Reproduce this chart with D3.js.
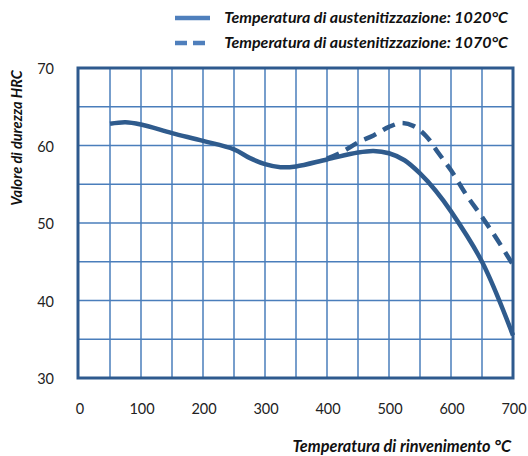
<!DOCTYPE html>
<html>
<head>
<meta charset="utf-8">
<script src="https://cdn.jsdelivr.net/npm/d3@7"></script>
<style>
  body { margin: 0; background: #fff; }
  svg { display: block; font-family: Lato, 'Open Sans', sans-serif; }
</style>
</head>
<body>
<script>
const xTicks = [0, 100, 200, 300, 400, 500, 600, 700]
const yTicks = [30, 40, 50, 60, 70]

// temperatura di rinvenimento vs durezza HRC
const temp1020 = [50, 75, 100, 150, 200, 250, 275, 300, 325, 350, 400, 450, 475, 500, 525, 550, 575, 600, 650, 700]
const hrc1020 = [62.8, 63.0, 62.7, 61.6, 60.6, 59.5, 58.4, 57.6, 57.2, 57.3, 58.2, 59.1, 59.3, 59.0, 58.1, 56.4, 54.2, 51.5, 45.0, 35.5]

const temp1070 = [400, 425, 450, 475, 500, 520, 540, 560, 580, 600, 625, 650, 675, 700]
const hrc1070 = [58.3, 59.2, 60.4, 61.3, 62.4, 62.9, 62.5, 61.2, 59.0, 56.8, 53.6, 50.8, 47.8, 44.6]

const legendLabels = ['Temperatura di austenitizzazione: 1020°C', 'Temperatura di austenitizzazione: 1070°C']

const width = 528, height = 456
const frameColor = '#2e5a8e'
const gridColor = '#4a7ebb'
const lineColor = '#2f5b8d'

const x = d3.scaleLinear().domain([0, 700]).range([79, 513])
const y = d3.scaleLinear().domain([30, 70]).range([378, 68])

const svg = d3.select('body').append('svg')
    .attr('width', width)
    .attr('height', height)

// grid
svg.append('g').selectAll('line')
    .data(d3.range(50, 700, 50))
    .enter().append('line')
    .attr('x1', d => x(d)).attr('x2', d => x(d))
    .attr('y1', y(70)).attr('y2', y(30))
    .attr('stroke', gridColor).attr('stroke-width', 1.5)

svg.append('g').selectAll('line')
    .data(d3.range(35, 70, 5))
    .enter().append('line')
    .attr('x1', x(0)).attr('x2', x(700))
    .attr('y1', d => y(d)).attr('y2', d => y(d))
    .attr('stroke', gridColor).attr('stroke-width', 1.5)

// curves
const line = d3.line()
    .x(d => x(d[0]))
    .y(d => y(d[1]))
    .curve(d3.curveCatmullRom)

svg.append('path')
    .datum(d3.zip(temp1070, hrc1070))
    .attr('d', line)
    .attr('fill', 'none')
    .attr('stroke', lineColor)
    .attr('stroke-width', 4.5)
    .attr('stroke-dasharray', '13 8')

svg.append('path')
    .datum(d3.zip(temp1020, hrc1020))
    .attr('d', line)
    .attr('fill', 'none')
    .attr('stroke', lineColor)
    .attr('stroke-width', 4.5)

// frame
svg.append('rect')
    .attr('x', x(0) - 1)
    .attr('y', y(70))
    .attr('width', x(700) - x(0) + 1)
    .attr('height', y(30) - y(70))
    .attr('fill', 'none')
    .attr('stroke', frameColor)
    .attr('stroke-width', 3)

// tick labels
svg.append('g').selectAll('text')
    .data(yTicks)
    .enter().append('text')
    .attr('x', 54)
    .attr('y', d => y(d) + 6)
    .attr('text-anchor', 'end')
    .attr('font-size', 14.5)
    .attr('fill', '#222')
    .text(d => d)

svg.append('g').selectAll('text')
    .data(xTicks)
    .enter().append('text')
    .attr('x', d => x(d) + 1)
    .attr('y', 414)
    .attr('text-anchor', 'middle')
    .attr('font-size', 14.5)
    .attr('fill', '#222')
    .text(d => d)

// axis titles
svg.append('text')
    .attr('transform', 'translate(22,138) rotate(-90)')
    .attr('text-anchor', 'middle')
    .attr('font-size', 14.5)
    .attr('font-weight', 'bold')
    .attr('font-style', 'italic')
    .attr('fill', '#111')
    .text('Valore di durezza HRC')

svg.append('text')
    .attr('x', 511)
    .attr('y', 452)
    .attr('text-anchor', 'end')
    .attr('font-size', 16.3)
    .attr('font-weight', 'bold')
    .attr('font-style', 'italic')
    .attr('fill', '#111')
    .text('Temperatura di rinvenimento °C')

// legend
const legend = svg.append('g')
legend.selectAll('text')
    .data(legendLabels)
    .enter().append('text')
    .attr('x', 508)
    .attr('y', (d, i) => 23 + i * 25)
    .attr('text-anchor', 'end')
    .attr('font-size', 16)
    .attr('font-weight', 'bold')
    .attr('font-style', 'italic')
    .attr('fill', '#111')
    .text(d => d)

legend.append('line')
    .attr('x1', 175).attr('x2', 210)
    .attr('y1', 18).attr('y2', 18)
    .attr('stroke', '#4f7fbc').attr('stroke-width', 4.5)

legend.append('line')
    .attr('x1', 175).attr('x2', 205)
    .attr('y1', 43).attr('y2', 43)
    .attr('stroke', '#4f7fbc').attr('stroke-width', 4.5)
    .attr('stroke-dasharray', '12 6')
</script>
</body>
</html>
